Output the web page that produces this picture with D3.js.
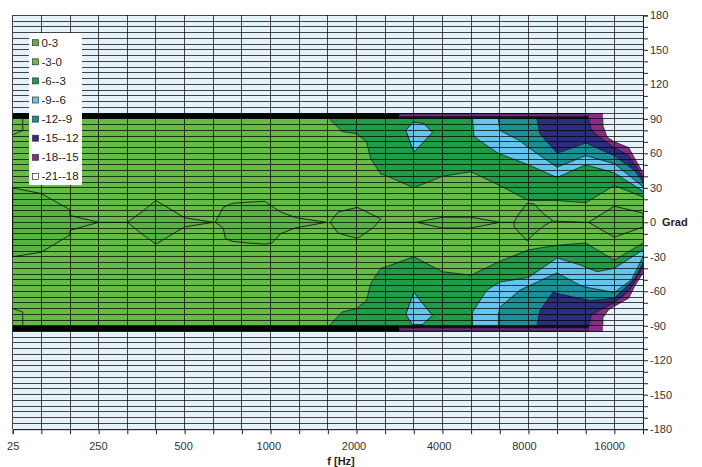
<!DOCTYPE html>
<html><head><meta charset="utf-8">
<script src="https://cdn.jsdelivr.net/npm/d3@7"></script>
<style>body{margin:0;background:#fff;} svg{display:block;font-family:"Liberation Sans",Arial,sans-serif;}</style>
</head><body>
<svg id="c" width="702" height="467"></svg>
<script>
// ---------- data ----------
const categories = ["25","63","125","250","315","400","500","630","800","1000","1250","1600","2000","2500","3150","4000","5000","6300","8000","10000","12500","16000","20000"];
const angleLabels = d3.range(-180, 181, 30);
const angleTicks = d3.range(-180, 181, 10);
const angleGrid = d3.range(-180, 181, 5);
const levels = ["0-3","-3-0","-6--3","-9--6","-12--9","-15--12","-18--15","-21--18"];
const levelColors = ["#57b443","#66bb46","#1f9c48","#63c4ee","#1a8f95","#2b2d7d","#8a2b8c","#ffffff"];

// contour boundaries [frequency index, angle]
const upperL3  = [[11.05,90],[11.5,79],[12,77],[12.35,70],[12.5,55],[12.85,42],[13,41],[14,30],[15,40],[16,44],[17,32],[18,19],[19,19],[20,17],[21,32],[22,22]];
const upperL6  = [[16.05,90],[16.1,75],[16.3,71],[16.95,60],[18,50],[19,39],[20,50],[21,43],[22,27]];
const upperL9  = [[16.95,90],[17,80],[17.7,71],[18,65],[19,48],[20,58],[21,51],[22,31]];
const upperL12 = [[18.3,90],[18.4,77],[18.9,63],[19,60],[20,69],[21,58],[21.7,45],[22,35]];
const upperL15 = [[20.1,90],[20.2,80],[20.6,72],[21,65],[21.5,58],[21.8,47],[22,39]];
const upperL18 = [[20.6,90],[20.6,84],[20.75,74],[21,70],[21.5,65],[21.7,56],[21.95,45],[22,44]];
const lowerL3  = [[11.05,-90],[11.5,-78],[12,-75],[12.35,-68],[12.5,-53],[12.85,-40],[13,-39],[14,-30],[15,-43],[16,-46],[17,-34],[18,-24],[19,-20],[20,-18],[21,-33],[22,-18]];
const lowerL6  = [[16.05,-90],[16.05,-78],[16.55,-59],[17,-52],[18,-48],[19,-31],[19.8,-37],[20.4,-43],[21,-40],[22,-24]];
const lowerL9  = [[16.95,-90],[16.95,-80],[17,-74],[17.7,-59],[19,-44],[19.9,-56],[21,-61],[21.6,-50],[22,-30]];
const lowerL12 = [[18.3,-90],[18.4,-77],[18.85,-61],[19.55,-65],[20.15,-68],[21,-66],[21.7,-49],[22,-35]];
const lowerL15 = [[20.1,-90],[20.2,-81],[20.5,-76],[21,-70],[21.5,-60],[21.8,-48],[22,-39]];
const lowerL18 = [[20.6,-90],[20.6,-83],[20.8,-76],[21,-73],[21.5,-66],[21.7,-56],[21.95,-46],[22,-44]];
const upperIsland = [[13.72,80],[13.97,87],[14.35,86],[14.65,78],[14.0,61]];
const lowerIsland = [[13.72,-80],[14,-61],[14.65,-81],[14.3,-89],[13.95,-89]];

// 0 dB contours (regions 0..3)
const zeroShapes = [
  [[0,30],[1,25],[2,11],[2,6],[3,0],[2,-7],[2,-11],[1,-26],[0,-30]],
  [[4,0],[4.5,9],[5,19],[6,4],[7,0],[6,-4],[5,-19],[4.5,-10]],
  [[7.07,0],[7.35,13],[7.65,16.5],[8.2,17.5],[8.8,18.3],[9.05,14],[9.35,9],[9.9,4],[10.95,0],[9.85,-5],[9.35,-10],[9.05,-18],[8.8,-19],[8.2,-18],[7.65,-16.5],[7.42,-14],[7.35,-5]],
  [[11.08,0],[11.36,9],[12.03,13],[12.85,3],[12.6,-4.5],[12.03,-14],[11.36,-9.5]],
  [[14.1,0],[15,4.5],[16,4.5],[17,0],[16,-5],[15,-5]],
  [[17.5,0],[17.6,5],[17.95,16.5],[18.2,16],[18.5,8],[18.85,1.5],[18.5,-4],[18.2,-10],[17.95,-16],[17.5,-4]],
  [[20.1,0],[21,14],[22,8],[22,-4],[21,-13]]
];
const zeroLinks = [
  [[3,0],[4,0]], [[12.85,0],[14.1,0]], [[17,0],[17.5,0]], [[18.85,1],[20.1,0]],
  [[0,76],[0.35,80],[0.35,90]], [[0,-75],[0.35,-78],[0.35,-90]]
];

// ---------- drawing ----------
const BG = "#e6f2fa";
const last = categories.length - 1;
const x = d3.scaleLinear().domain([0, last]).range([12.7, 643]);
const xCat = d3.scalePoint().domain(categories).range([12.7, 643]);
const y = d3.scaleLinear().domain([-180, 180]).range([429.2, 15.4]);
const svg = d3.select("#c");
const line = d3.line().x(d => x(d[0])).y(d => y(d[1]));
const color = name => levelColors[levels.indexOf(name)];

svg.append("rect").attr("x", x(0)).attr("y", y(180)).attr("width", x(last) - x(0))
  .attr("height", y(-180) - y(180)).attr("fill", BG);
svg.append("rect").attr("x", x(0)).attr("y", y(90)).attr("width", x(last) - x(0))
  .attr("height", y(-90) - y(90)).attr("fill", color("-3-0"));

const fills = [
  [upperL3, lowerL3, color("-6--3")],
  [upperL6, lowerL6, color("-9--6")],
  [upperL9, lowerL9, color("-12--9")],
  [upperL12, lowerL12, color("-15--12")],
  [upperL15, lowerL15, color("-18--15")],
  [upperL18, lowerL18, BG]
];
const gFill = svg.append("g");
fills.forEach(([u, l, c]) => {
  gFill.append("path").attr("d", line(u.concat([[last, 95], [u[0][0], 95]])) + "Z").attr("fill", c);
  gFill.append("path").attr("d", line(l.concat([[last, -95], [l[0][0], -95]])) + "Z").attr("fill", c);
});
[upperIsland, lowerIsland].forEach(p => {
  gFill.append("path").attr("d", line(p) + "Z").attr("fill", color("-9--6"))
    .attr("stroke", "#1a1a1a").attr("stroke-width", 0.9);
});
fills.forEach(([u, l]) => {
  [u, l].forEach(p => gFill.append("path").attr("d", line(p)).attr("fill", "none")
    .attr("stroke", "#1a1a1a").attr("stroke-width", 0.9).attr("stroke-opacity", 0.85));
});
zeroShapes.forEach(p => {
  gFill.append("path").attr("d", line(p) + "Z").attr("fill", color("0-3"))
    .attr("stroke", "#1a1a1a").attr("stroke-width", 0.9);
});
zeroLinks.forEach(p => {
  gFill.append("path").attr("d", line(p)).attr("fill", "none")
    .attr("stroke", "#1a1a1a").attr("stroke-width", 0.9);
});

// dense contour band at +-90..95
[1, -1].forEach(s => {
  const band = (c0, c1, a0, a1, col) => svg.append("rect").attr("x", x(c0)).attr("width", x(c1) - x(c0))
    .attr("y", y(Math.max(s * a0, s * a1))).attr("height", Math.abs(y(a1) - y(a0))).attr("fill", col);
  band(0, 13.5, 90, 95, "#000");
  band(13.5, 20.1, 90, 95, "#141018");
  band(13.5, 20.1, 92.2, 94.2, "#6a2a7e");
});

// grid
const grid = svg.append("g").attr("stroke", "#000").attr("stroke-opacity", 0.72).attr("shape-rendering", "crispEdges");
angleGrid.forEach(a => grid.append("line").attr("x1", x(0)).attr("x2", x(last)).attr("y1", y(a)).attr("y2", y(a)));
d3.range(0, last + 1).forEach(i => grid.append("line").attr("x1", x(i)).attr("x2", x(i)).attr("y1", y(180)).attr("y2", y(-180)));

// axes
const ax = svg.append("g").attr("transform", `translate(0,${y(-180)})`)
  .call(d3.axisBottom(xCat).tickSize(5).tickPadding(8).tickFormat((d, i) => i % 3 === 0 ? d : ""));
ax.selectAll(".tick text").attr("dx", (d, i) => -i * 0.25);
const ay = svg.append("g").attr("transform", `translate(${x(last)},0)`)
  .call(d3.axisRight(y).tickValues(angleTicks).tickSize(5).tickPadding(2)
    .tickFormat(d => angleLabels.includes(d) ? d : ""));
[ax, ay].forEach(g => {
  g.selectAll("text").attr("font-size", 11).attr("fill", "#333").attr("font-family", "Liberation Sans, Arial, sans-serif");
  g.selectAll("line,path").attr("stroke", "#222");
});
svg.append("text").attr("x", 341).attr("y", 465).attr("text-anchor", "middle")
  .attr("font-size", 11).attr("font-weight", "bold").attr("fill", "#222").text("f [Hz]");
svg.append("text").attr("x", 662).attr("y", 226)
  .attr("font-size", 11).attr("font-weight", "bold").attr("fill", "#222").text("Grad");

// legend
const lg = svg.append("g").attr("transform", "translate(29,33)");
lg.append("rect").attr("width", 53).attr("height", 152).attr("fill", "#fff");
levels.forEach((lv, i) => {
  const g = lg.append("g").attr("transform", `translate(0,${9.7 + i * 19.1})`);
  g.append("rect").attr("x", 3.5).attr("y", -3).attr("width", 6).attr("height", 6)
    .attr("fill", levelColors[i]).attr("stroke", "#333").attr("stroke-width", 0.7);
  g.append("text").attr("x", 12.5).attr("y", 4).attr("font-size", 11.5).attr("fill", "#222").text(lv);
});
</script>
</body></html>
